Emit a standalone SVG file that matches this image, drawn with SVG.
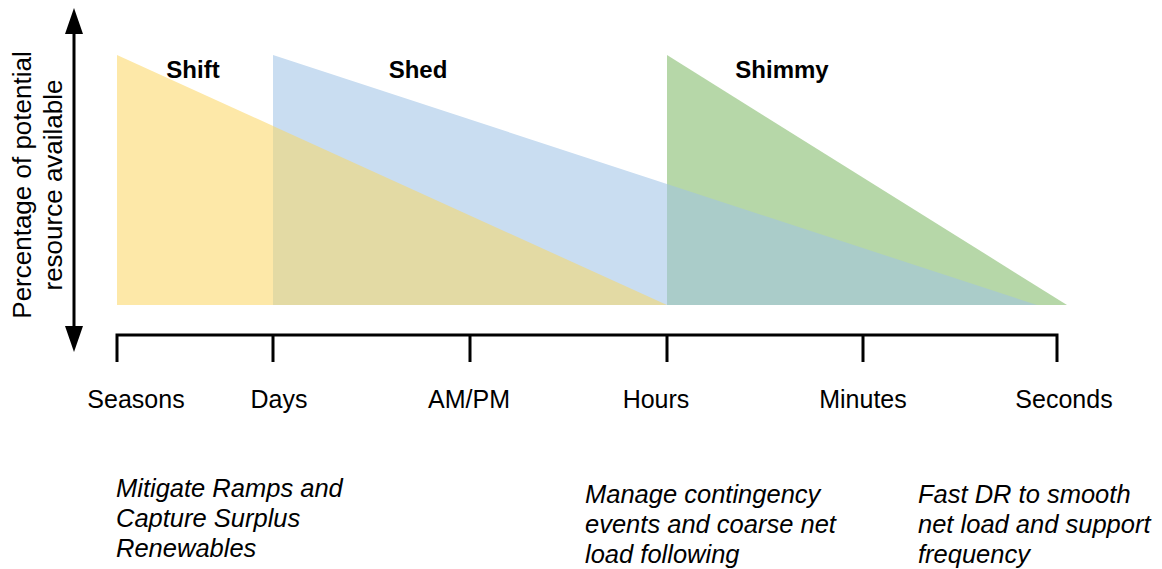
<svg xmlns="http://www.w3.org/2000/svg" width="1162" height="569" viewBox="0 0 1162 569">
<defs>
<style>
.t{font-family:"Liberation Sans",Arial,sans-serif;font-size:24px;fill:#000}
.b{font-weight:bold;text-anchor:middle}
.m{text-anchor:middle}
.i{font-style:italic;font-size:25.5px}
.y{font-size:26px}
.ax{stroke:#000;stroke-width:3;fill:none}
</style>
</defs>
<rect width="1162" height="569" fill="#fff"/>
<g id="shift-area">
<polygon points="117,55 667,305 117,305" fill="#FDE8A8"/>
</g>
<g id="shed-area">
<polygon points="273,55 1037,305 273,305" fill="#C9DDF1"/>
<polygon points="273,126 667,305 273,305" fill="#E3DAA4"/>
</g>
<g id="shimmy-area">
<polygon points="667,55 1067,305 667,305" fill="#B6D7A8"/>
<polygon points="667,184 1037,305 667,305" fill="#AACCC9"/>
</g>
<g id="labels">
<text class="t b" x="193" y="78">Shift</text>
<text class="t b" x="418" y="78">Shed</text>
<text class="t b" x="782" y="78">Shimmy</text>
</g>
<g id="y-axis">
<line class="ax" x1="74" y1="30" x2="74" y2="330"/>
<polygon points="74,8 83,34 65,34" fill="#000"/>
<polygon points="74,352 83,326 65,326" fill="#000"/>
<text class="t m y" transform="translate(31,185) rotate(-90)">Percentage of potential</text>
<text class="t m y" transform="translate(62,185) rotate(-90)">resource available</text>
</g>
<g id="x-axis">
<path class="ax" d="M117,362 V335 H1057 V362 M273,335 V362 M470,335 V362 M667,335 V362 M863,335 V362"/>
<text class="t m" x="136" y="408" style="font-size:25px">Seasons</text>
<text class="t m" x="279" y="408" style="font-size:25px">Days</text>
<text class="t m" x="469" y="408" style="font-size:25px">AM/PM</text>
<text class="t m" x="656" y="408" style="font-size:25px">Hours</text>
<text class="t m" x="863" y="408" style="font-size:25px">Minutes</text>
<text class="t m" x="1064" y="408" style="font-size:25px">Seconds</text>
</g>
<g id="notes">
<text class="t i" x="116" y="497">Mitigate Ramps and</text>
<text class="t i" x="116" y="527">Capture Surplus</text>
<text class="t i" x="116" y="557">Renewables</text>
<text class="t i" x="585" y="503">Manage contingency</text>
<text class="t i" x="585" y="533">events and coarse net</text>
<text class="t i" x="585" y="563">load following</text>
<text class="t i" x="918" y="503">Fast DR to smooth</text>
<text class="t i" x="918" y="533">net load and support</text>
<text class="t i" x="918" y="563">frequency</text>
</g>
</svg>
